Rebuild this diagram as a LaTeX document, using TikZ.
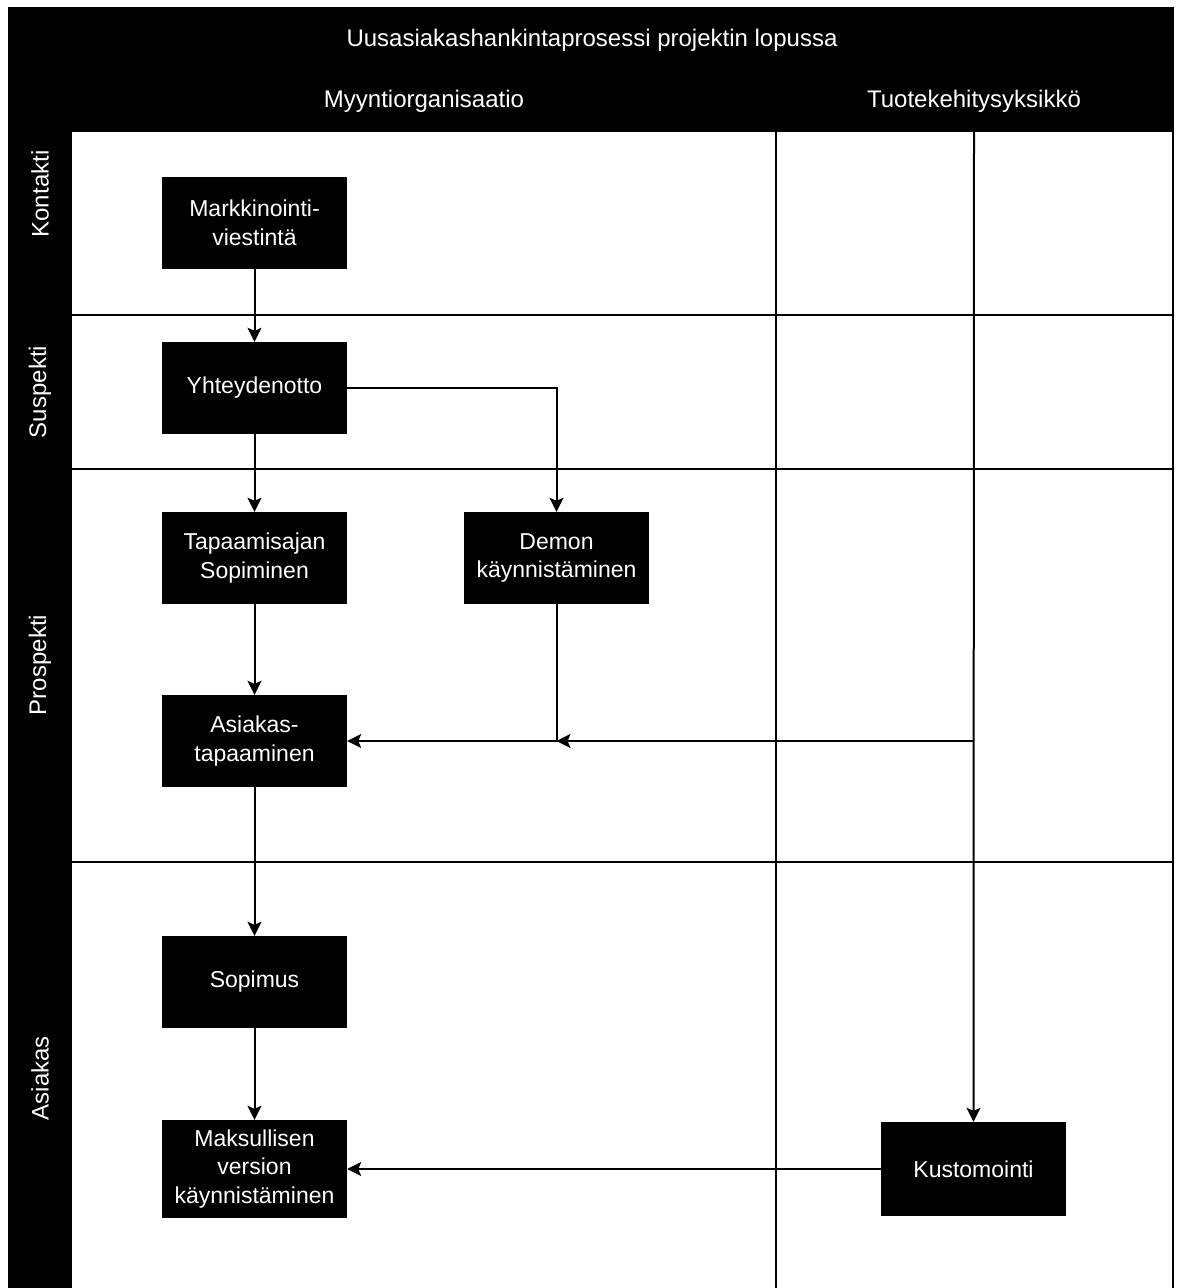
\documentclass[tikz,border=0pt]{standalone}
\usepackage{fontspec}
\setmainfont{Liberation Sans}
\usetikzlibrary{arrows.meta,calc}
\begin{document}
\begin{tikzpicture}[x=1pt,y=-1pt,
  box/.style={fill=black,text=white,minimum width=185pt,minimum height=92pt,align=center,inner sep=0pt,font=\fontsize{23}{28.5}\selectfont},
  hdr/.style={text=white,font=\fontsize{24}{28}\selectfont},
  lanelbl/.style={text=white,rotate=90,font=\fontsize{24}{28}\selectfont},
  grid/.style={line width=2pt},
  conn/.style={line width=2pt,-{Stealth[length=14pt,width=14pt,inset=3pt]}}]
\useasboundingbox (0,0) rectangle (1179,1288);
% black frames
\fill (8,7) rectangle (1174,132);
\fill (8,132) rectangle (72,1288);
% grid
\draw[grid] (776,132) -- (776,1288);
\draw[grid] (1173,132) -- (1173,1288);
\draw[grid] (72,315) -- (1173,315);
\draw[grid] (72,469) -- (1173,469);
\draw[grid] (72,862) -- (1173,862);
% headers
\node[hdr] (title) at (592,40) {Uusasiakashankintaprosessi projektin lopussa};
\node[hdr] (myy) at (424,101) {Myyntiorganisaatio};
\node[hdr] (tuo) at (974,101) {Tuotekehitysyksikkö};
\node[lanelbl] (l1) at (40,194) {Kontakti};
\node[lanelbl] (l2) at (40,392) {Suspekti};
\node[lanelbl] (l3) at (40,665) {Prospekti};
\node[lanelbl] (l4) at (40,1078) {Asiakas};
% boxes
\node[box] (mark) at (254.5,223) {Markkinointi-\\viestintä};
\node[box] (yht) at (254.5,388) {Yhteydenotto};
\node[box] (tap) at (254.5,558) {Tapaamisajan\\Sopiminen};
\node[box] (demo) at (556.5,558) {Demon\\käynnistäminen};
\node[box] (asi) at (254.5,741) {Asiakas-\\tapaaminen};
\node[box] (sop) at (254.5,982) {Sopimus};
\node[box,minimum height=98pt] (mak) at (254.5,1169) {Maksullisen\\version\\käynnistäminen};
\node[box,minimum height=94pt] (kus) at (973.5,1169) {Kustomointi};
% connectors
\coordinate (tktop) at (974,132);
\coordinate (jn) at (556.5,741);
\draw[conn] (mark) -- (yht);
\draw[conn] (yht) -- (tap);
\draw[conn] (yht.east) -| (demo.north);
\draw[conn] (tap) -- (asi);
\draw[conn] (demo.south) |- (asi.east);
\draw[conn] (tktop) -- (kus.north);
\draw[conn] (tktop |- jn) -- (jn);
\draw[conn] (asi) -- (sop);
\draw[conn] (sop) -- (mak);
\draw[conn] (kus.west) -- (mak.east);
\end{tikzpicture}
\end{document}
